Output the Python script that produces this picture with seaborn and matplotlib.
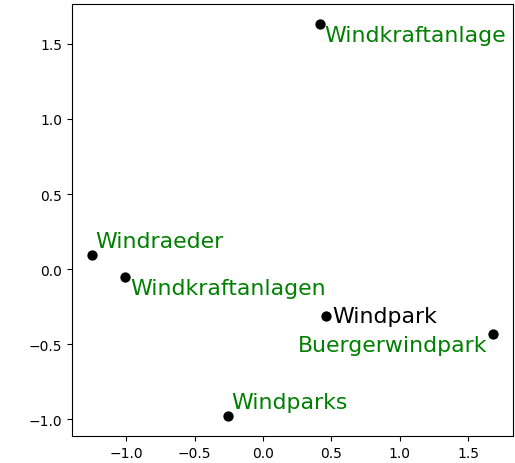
import numpy as np
import pandas as pd
import matplotlib
matplotlib.use("Agg")
import matplotlib.pyplot as plt
import seaborn as sns

# word embedding coordinates (2D projection)
words = ["Windkraftanlage", "Windraeder", "Windkraftanlagen", "Windpark", "Buergerwindpark", "Windparks"]
x = [0.416, -1.248, -1.007, 0.46, 1.679, -0.255]
y = [1.633, 0.093, -0.053, -0.313, -0.433, -0.98]
colors = ["green", "green", "green", "black", "green", "green"]

data = pd.DataFrame({"word": words, "x": x, "y": y})

fig, ax = plt.subplots(figsize=(5.15, 4.64), dpi=100)
plt.subplots_adjust(left=0.14, right=0.996, top=0.989, bottom=0.058)
sns.scatterplot(x="x", y="y", data=data, color="black", s=55, edgecolor="black", linewidth=0, ax=ax)

# label placement (pixel offsets, alignments)
place = {
    "Windkraftanlage": ((4, -1), "left", "top"),
    "Windraeder": ((3, 4), "left", "bottom"),
    "Windkraftanlagen": ((5, -1), "left", "top"),
    "Windpark": ((6, 0), "left", "center"),
    "Buergerwindpark": ((-6, -1), "right", "top"),
    "Windparks": ((3, 4), "left", "bottom"),
}
for w, xi, yi, c in zip(words, x, y, colors):
    off, ha, va = place[w]
    ax.annotate(w, (xi, yi), xytext=off, textcoords="offset pixels",
                ha=ha, va=va, color=c, fontsize=15.8)

ax.set_xlabel("")
ax.set_ylabel("")
ax.set_xticks([-1.0, -0.5, 0.0, 0.5, 1.0, 1.5])
ax.set_yticks([-1.0, -0.5, 0.0, 0.5, 1.0, 1.5])
plt.savefig("out.png", dpi=100)
